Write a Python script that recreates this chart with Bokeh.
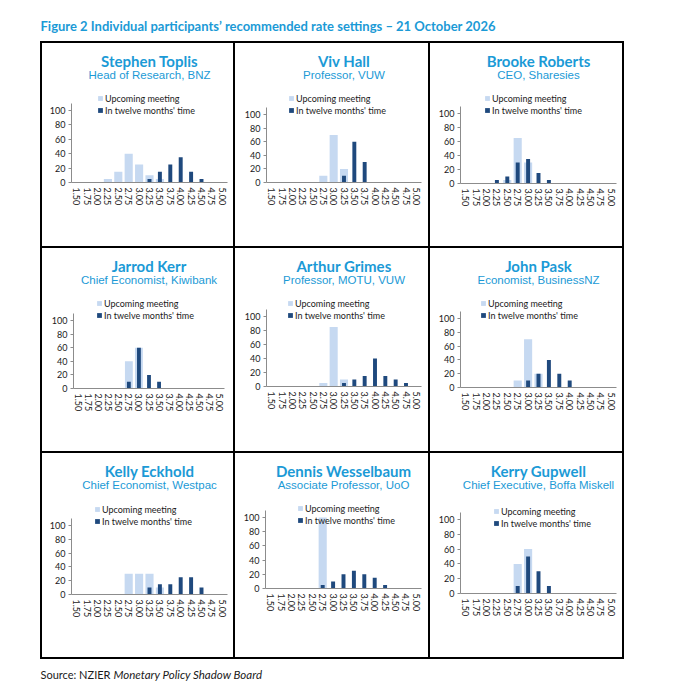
from bokeh.plotting import figure
from bokeh.models import (FactorRange, Range1d, Label, Legend, LegendItem, FixedTicker,
                          Spacer, ColumnDataSource)
from bokeh.layouts import column, row
from bokeh.embed import file_html
from bokeh.resources import INLINE

# ---------------- data ----------------
rates = ["1.50", "1.75", "2.00", "2.25", "2.50", "2.75", "3.00", "3.25",
         "3.50", "3.75", "4.00", "4.25", "4.50", "4.75", "5.00"]

names = ["Stephen Toplis", "Viv Hall", "Brooke Roberts",
         "Jarrod Kerr", "Arthur Grimes", "John Pask",
         "Kelly Eckhold", "Dennis Wesselbaum", "Kerry Gupwell"]
roles = ["Head of Research, BNZ", "Professor, VUW", "CEO, Sharesies",
         "Chief Economist, Kiwibank", "Professor, MOTU, VUW", "Economist, BusinessNZ",
         "Chief Economist, Westpac", "Associate Professor, UoO", "Chief Executive, Boffa Miskell"]

upcoming_toplis = [0, 0, 0, 5, 15, 40, 25, 10, 5, 0, 0, 0, 0, 0, 0]
twelve_toplis = [0, 0, 0, 0, 0, 0, 0, 5, 15, 25, 35, 15, 5, 0, 0]
upcoming_hall = [0, 0, 0, 0, 0, 10, 70, 20, 0, 0, 0, 0, 0, 0, 0]
twelve_hall = [0, 0, 0, 0, 0, 0, 0, 10, 60, 30, 0, 0, 0, 0, 0]
upcoming_roberts = [0, 0, 0, 0, 5, 65, 30, 0, 0, 0, 0, 0, 0, 0, 0]
twelve_roberts = [0, 0, 0, 5, 10, 30, 35, 15, 5, 0, 0, 0, 0, 0, 0]
upcoming_kerr = [0, 0, 0, 0, 0, 40, 60, 0, 0, 0, 0, 0, 0, 0, 0]
twelve_kerr = [0, 0, 0, 0, 0, 10, 60, 20, 10, 0, 0, 0, 0, 0, 0]
upcoming_grimes = [0, 0, 0, 0, 0, 5, 85, 10, 0, 0, 0, 0, 0, 0, 0]
twelve_grimes = [0, 0, 0, 0, 0, 0, 0, 5, 10, 15, 40, 15, 10, 5, 0]
upcoming_pask = [0, 0, 0, 0, 0, 10, 70, 20, 0, 0, 0, 0, 0, 0, 0]
twelve_pask = [0, 0, 0, 0, 0, 0, 10, 20, 40, 20, 10, 0, 0, 0, 0]
upcoming_eckhold = [0, 0, 0, 0, 0, 30, 30, 30, 10, 0, 0, 0, 0, 0, 0]
twelve_eckhold = [0, 0, 0, 0, 0, 0, 0, 10, 15, 15, 25, 25, 10, 0, 0]
upcoming_wesselbaum = [0, 0, 0, 0, 0, 100, 0, 0, 0, 0, 0, 0, 0, 0, 0]
twelve_wesselbaum = [0, 0, 0, 0, 0, 5, 10, 20, 25, 20, 15, 5, 0, 0, 0]
upcoming_gupwell = [0, 0, 0, 0, 0, 40, 60, 0, 0, 0, 0, 0, 0, 0, 0]
twelve_gupwell = [0, 0, 0, 0, 0, 10, 50, 30, 10, 0, 0, 0, 0, 0, 0]

upcoming = [upcoming_toplis, upcoming_hall, upcoming_roberts, upcoming_kerr, upcoming_grimes,
            upcoming_pask, upcoming_eckhold, upcoming_wesselbaum, upcoming_gupwell]
twelve = [twelve_toplis, twelve_hall, twelve_roberts, twelve_kerr, twelve_grimes,
          twelve_pask, twelve_eckhold, twelve_wesselbaum, twelve_gupwell]

y_ticks = [0, 20, 40, 60, 80, 100]
series_labels = ["Upcoming meeting", "In twelve months' time"]
title_text = "Figure 2 Individual participants\u2019 recommended rate settings \u2013 21 October 2026"
source_plain = "Source: NZIER"
source_italic = "Monetary Policy Shadow Board"

# ---------------- style / layout ----------------
FONT = "Lato"
BLUE = "#1b9ad6"
LIGHT = "#c6d9f1"
DARK = "#1f497d"
AXIS = "#8c8c8c"
TXT = "#1a1a1a"

col_x = [42, 235, 430]
col_w = [191, 193, 192]
row_y = [43, 248, 453]
row_h = [203, 203, 204]
HDR = 42
# axis_x, x_end, y0, y100, legend_x, legend_row1_y  (absolute page pixels)
geom = [
    (71, 227, 182, 110, 97, 98),
    (266, 421, 182, 114, 288, 98),
    (460, 616, 183, 113, 484, 98),
    (73, 224, 388, 320, 96, 303),
    (266, 421, 386, 316, 287, 303),
    (460, 616, 387, 318, 480, 303),
    (71, 227, 594, 525, 94, 509),
    (265, 421, 588, 517, 297, 508),
    (460, 616, 593, 519, 493, 511),
]


def blank_fig(w, h):
    f = figure(width=w, height=h, x_range=Range1d(0, w), y_range=Range1d(0, h),
               output_backend="svg", toolbar_location=None, min_border=0, title=None)
    f.axis.visible = False
    f.grid.visible = False
    f.outline_line_color = None
    f.background_fill_color = "white"
    f.border_fill_color = "white"
    return f


def make_header(k):
    r, c = divmod(k, 3)
    W = col_w[c]
    h = blank_fig(W, HDR)
    h.add_layout(Label(x=W / 2.0, y=HDR - 17.5, text=names[k], text_align="center",
                       text_baseline="middle", text_font=FONT, text_font_style="bold",
                       text_font_size="15px", text_color=BLUE))
    h.add_layout(Label(x=W / 2.0, y=HDR - 31.3, text=roles[k], text_align="center",
                       text_baseline="middle", text_font="Liberation Sans",
                       text_font_size="11.5px", text_color=BLUE))
    return h


def make_chart(k):
    r, c = divmod(k, 3)
    ox, W = col_x[c], col_w[c]
    oy, H = row_y[r] + HDR, row_h[r] - HDR
    ax, xe, y0, y100, lx, ly = geom[k]
    ppu = (y0 - y100) / 100.0
    ymax = (y0 - oy) / ppu
    p = figure(width=W, height=H, x_range=FactorRange(*rates, range_padding=0),
               y_range=Range1d(0, ymax), output_backend="svg", toolbar_location=None,
               title=None,
               min_border_left=ax - ox, min_border_right=ox + W - xe,
               min_border_top=0, min_border_bottom=oy + H - y0)
    p.outline_line_color = None
    p.grid.visible = False
    p.background_fill_color = "white"
    p.border_fill_color = "white"

    src = ColumnDataSource(dict(rate=rates, up=upcoming[k], tw=twelve[k]))
    r1 = p.vbar(x="rate", top="up", width=0.78, source=src, fill_color=LIGHT, line_color=None)
    r2 = p.vbar(x="rate", top="tw", width=0.38, source=src, fill_color=DARK, line_color=None)

    xa = p.xaxis[0]
    xa.axis_line_color = AXIS
    xa.major_tick_line_color = None
    xa.minor_tick_line_color = None
    xa.major_tick_out = 0
    xa.major_label_orientation = "vertical"
    xa.major_label_standoff = 5
    xa.major_label_text_font = FONT
    xa.major_label_text_font_size = "9px"
    xa.major_label_text_color = TXT

    ya = p.yaxis[0]
    ya.ticker = FixedTicker(ticks=y_ticks)
    ya.bounds = (0, 110)
    ya.axis_line_color = AXIS
    ya.major_tick_line_color = AXIS
    ya.major_tick_out = 3
    ya.major_tick_in = 0
    ya.minor_tick_line_color = None
    ya.major_label_standoff = 3
    ya.major_label_text_font = FONT
    ya.major_label_text_font_size = "9px"
    ya.major_label_text_color = TXT

    leg_h = 23
    legend = Legend(items=[LegendItem(label=series_labels[0], renderers=[r1]),
                           LegendItem(label=series_labels[1], renderers=[r2])],
                    location=(lx - ax, y0 - (ly - 5.5) - leg_h),
                    orientation="vertical", padding=0, margin=0, spacing=1,
                    glyph_width=6, glyph_height=6, label_height=11, label_standoff=2,
                    label_text_font=FONT, label_text_font_size="9px", label_text_color=TXT,
                    border_line_color=None, background_fill_alpha=0)
    p.add_layout(legend, "center")
    return p


top = blank_fig(699, 41)
top.add_layout(Label(x=40, y=41 - 25.5, text=title_text, text_baseline="middle",
                     text_font=FONT, text_font_style="bold", text_font_size="13px",
                     text_color=BLUE))

bottom = blank_fig(699, 41)
bottom.add_layout(Label(x=40, y=41 - 15.3, text=source_plain, text_baseline="middle",
                        text_font=FONT, text_font_size="11px", text_color=TXT))
bottom.add_layout(Label(x=113, y=41 - 15.3, text=source_italic, text_baseline="middle",
                        text_font=FONT, text_font_style="italic", text_font_size="11.5px",
                        text_color=TXT))

BLACK = {"background-color": "black"}


def hline():
    return row(Spacer(width=40, height=2), Spacer(width=584, height=2, styles=BLACK))


def vline(h):
    return Spacer(width=2, height=h, styles=BLACK)


panels = [column(make_header(k), make_chart(k)) for k in range(9)]
rows = []
for r in range(3):
    rows.append(row(Spacer(width=40, height=row_h[r]), vline(row_h[r]),
                    panels[3 * r], vline(row_h[r]),
                    panels[3 * r + 1], vline(row_h[r]),
                    panels[3 * r + 2], vline(row_h[r])))

layout = column(top, hline(), rows[0], hline(), rows[1], hline(), rows[2], hline(), bottom)

with open("out.html", "w") as fh:
    fh.write(file_html(layout, INLINE))
